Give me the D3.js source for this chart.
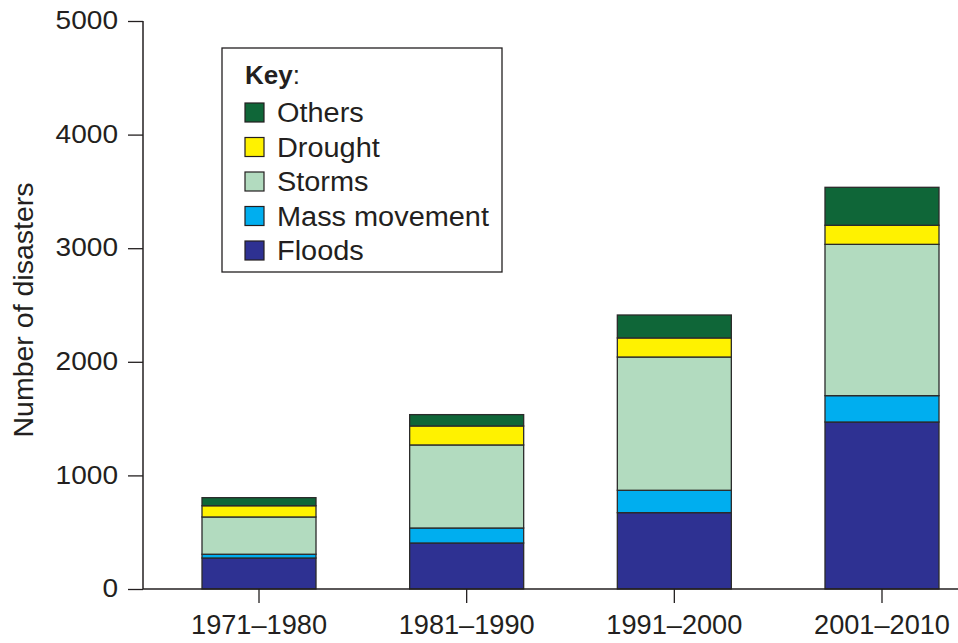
<!DOCTYPE html>
<html>
<head>
<meta charset="utf-8">
<script src="https://cdn.jsdelivr.net/npm/d3@7"></script>
<style>
  html, body { margin: 0; padding: 0; background: #fff; }
  svg { display: block; }
  text { font-family: "Liberation Sans", Arial, Helvetica, sans-serif; fill: #231f20; }
</style>
</head>
<body>
<svg id="chart" width="958" height="643"></svg>
<script>
// ---- data ----
const categories = ["1971–1980", "1981–1990", "1991–2000", "2001–2010"];
const seriesNames = ["Floods", "Mass movement", "Storms", "Drought", "Others"];
const floods = [273, 405, 672, 1470];
const massMovement = [33, 132, 197, 232];
const storms = [328, 731, 1173, 1332];
const drought = [99, 167, 168, 168];
const others = [71, 100, 202, 334];
const yTicks = [0, 1000, 2000, 3000, 4000, 5000];
const legendOrder = ["Others", "Drought", "Storms", "Mass movement", "Floods"];

const colors = {
  "Floods": "#2e3192",
  "Mass movement": "#00aeef",
  "Storms": "#b2dbbf",
  "Drought": "#fff200",
  "Others": "#0f6638"
};

const table = categories.map((c, i) => ({
  cat: c,
  "Floods": floods[i],
  "Mass movement": massMovement[i],
  "Storms": storms[i],
  "Drought": drought[i],
  "Others": others[i]
}));

const svg = d3.select("#chart");
const ink = "#231f20";

const x = d3.scaleBand().domain(categories).range([202, 939]).paddingInner(0.451).paddingOuter(0);
const y = d3.scaleLinear().domain([0, 5000]).range([589, 21]);

function stretch(sel, k) {
  sel.each(function() {
    const w = this.getComputedTextLength();
    d3.select(this).attr("textLength", w * k).attr("lengthAdjust", "spacingAndGlyphs");
  });
}

// ---- bars ----
const stack = d3.stack().keys(seriesNames)(table);
svg.append("g").selectAll("g").data(stack).join("g")
  .attr("fill", d => colors[d.key])
  .selectAll("rect").data(d => d).join("rect")
  .attr("x", d => x(d.data.cat))
  .attr("width", x.bandwidth())
  .attr("y", d => y(d[1]))
  .attr("height", d => y(d[0]) - y(d[1]))
  .attr("stroke", "#2b2b2b")
  .attr("stroke-width", 1.3);

// ---- y axis ----
const yAxis = svg.append("g").attr("transform", "translate(143,0)")
  .call(d3.axisLeft(y).tickValues(yTicks).tickSize(15).tickPadding(10).tickFormat(d3.format("d")));
yAxis.select(".domain").attr("stroke", ink).attr("stroke-width", 1.5).attr("d", `M0,${y(5000)}V${y(0)}`);
yAxis.selectAll(".tick line").attr("stroke", ink).attr("stroke-width", 1.3);
yAxis.selectAll(".tick text").attr("font-size", 25.5).attr("fill", ink)
  .style("font-family", "'Liberation Sans', Arial, sans-serif").attr("dy", "0.3em");
stretch(yAxis.selectAll(".tick text"), 1.1);

// ---- x axis ----
const xAxis = svg.append("g").attr("transform", `translate(0,${y(0)})`)
  .call(d3.axisBottom(x).tickSize(14).tickPadding(11));
xAxis.select(".domain").attr("stroke", ink).attr("stroke-width", 1.5).attr("d", "M143,0H958");
xAxis.selectAll(".tick line").attr("stroke", ink).attr("stroke-width", 1.3);
xAxis.selectAll(".tick text").attr("font-size", 28).attr("fill", ink)
  .style("font-family", "'Liberation Sans', Arial, sans-serif").attr("dy", "0.72em");
stretch(xAxis.selectAll(".tick text"), 0.97);

// ---- y title ----
svg.append("text")
  .attr("transform", "translate(33,310) rotate(-90)")
  .attr("text-anchor", "middle")
  .attr("font-size", 28.5)
  .text("Number of disasters");

// ---- legend ----
const lg = svg.append("g");
lg.append("rect").attr("x", 222).attr("y", 48).attr("width", 280).attr("height", 224)
  .attr("fill", "#fff").attr("stroke", ink).attr("stroke-width", 1.3);
const keyT = lg.append("text").attr("x", 245).attr("y", 84).attr("font-size", 26);
keyT.append("tspan").attr("font-weight", "bold").text("Key");
keyT.append("tspan").text(":");

const items = lg.selectAll("g.item").data(legendOrder).join("g")
  .attr("class", "item")
  .attr("transform", (d, i) => `translate(245,${103 + i * 34.5})`);
items.append("rect").attr("width", 19).attr("height", 19)
  .attr("fill", d => colors[d]).attr("stroke", ink).attr("stroke-width", 1.2);
items.append("text").attr("x", 32).attr("y", 19).attr("font-size", 27).text(d => d);
stretch(items.selectAll("text"), 1.07);
</script>
</body>
</html>
